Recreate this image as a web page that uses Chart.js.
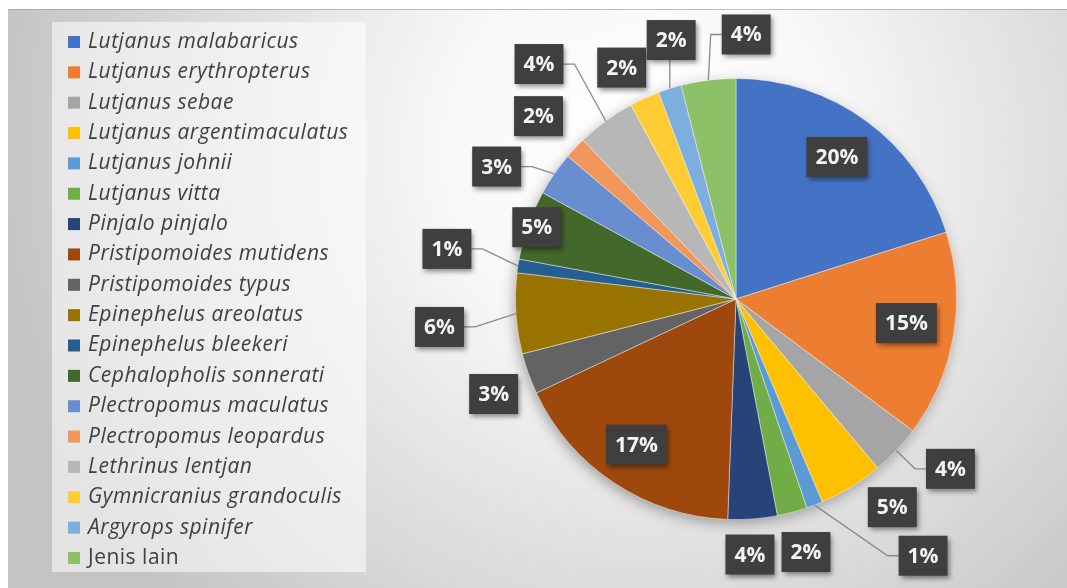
<!DOCTYPE html>
<html>
<head>
<meta charset="utf-8">
<script src="https://cdn.jsdelivr.net/npm/chart.js@4.4.1/dist/chart.umd.min.js"></script>
<style>
  html, body { margin: 0; padding: 0; background: #fff; }
  #wrap { width: 1067px; height: 588px; position: relative; }
</style>
</head>
<body>
<div id="wrap"><canvas id="pie"></canvas></div>
<script>
// --- Data (percent share per species) ---
const species = [
  'Lutjanus malabaricus', 'Lutjanus erythropterus', 'Lutjanus sebae', 'Lutjanus argentimaculatus',
  'Lutjanus johnii', 'Lutjanus vitta', 'Pinjalo pinjalo', 'Pristipomoides mutidens',
  'Pristipomoides typus', 'Epinephelus areolatus', 'Epinephelus bleekeri', 'Cephalopholis sonnerati',
  'Plectropomus maculatus', 'Plectropomus leopardus', 'Lethrinus lentjan', 'Gymnicranius grandoculis',
  'Argyrops spinifer', 'Jenis lain'
];
const shares = [20.1, 15.1, 3.7, 4.7, 1.2, 2.2, 3.6, 17.4, 3.0, 5.9, 1.0, 5.1, 3.2, 1.6, 4.3, 2.2, 1.7, 4.0];
const uprightNames = ['Jenis lain'];

// --- Styling ---
const colours = [
  '#4472C4', '#ED7D31', '#A5A5A5', '#FFC000', '#5B9BD5', '#70AD47',
  '#264478', '#9E480E', '#636363', '#997300', '#255E91', '#43682B',
  '#698ED0', '#F1975A', '#B7B7B7', '#FFCD33', '#7CAFDD', '#8CC168'
];
// label placement: angle nudge from slice middle (deg), distance as fraction of radius
const labelNudge = [-0.8, -1.5, -5, -5.4, -15.2, -0.7, 1.2, 0.9, -1.6, -1.6, 1.2, 0.2, -5.6, -0.4, -3.8, -1.8, 3.4, 9.4];
const labelDist  = [0.79, 0.78, 1.24, 1.18, 1.44, 1.19, 1.16, 0.80, 1.18, 1.35, 1.33, 0.96, 1.24, 1.22, 1.39, 1.17, 1.21, 1.20];
const hasLeader  = [0, 0, 1, 0, 1, 0, 0, 0, 0, 1, 1, 0, 1, 0, 1, 0, 1, 1];

const backdrop = {
  id: 'backdrop',
  beforeDraw(chart) {
    const ctx = chart.ctx;
    ctx.save();
    ctx.fillStyle = '#fff';
    ctx.fillRect(0, 0, chart.width, chart.height);
    const g = ctx.createRadialGradient(640, 150, 0, 640, 150, 650);
    g.addColorStop(0, '#ffffff');
    g.addColorStop(0.3, '#f8f8f8');
    g.addColorStop(1, '#c4c4c4');
    ctx.fillStyle = g;
    ctx.fillRect(8, 9, chart.width - 8, chart.height - 9);
    ctx.strokeStyle = 'rgba(150,150,150,0.6)';
    ctx.lineWidth = 1;
    ctx.beginPath(); ctx.moveTo(8, 9.5); ctx.lineTo(chart.width, 9.5); ctx.stroke();
    // legend panel
    ctx.fillStyle = 'rgba(255,255,255,0.55)';
    ctx.fillRect(52, 22, 314, 550);
    ctx.restore();
  },
  beforeDatasetsDraw(chart) {
    const arc = chart.getDatasetMeta(0).data[0];
    if (!arc) return;
    const ctx = chart.ctx;
    ctx.save();
    ctx.shadowColor = 'rgba(0,0,0,0.35)';
    ctx.shadowBlur = 14;
    ctx.shadowOffsetX = -2;
    ctx.shadowOffsetY = 4;
    ctx.fillStyle = '#bbb';
    ctx.beginPath();
    ctx.arc(arc.x, arc.y, arc.outerRadius - 1, 0, Math.PI * 2);
    ctx.fill();
    ctx.restore();
  }
};

const dataLabels = {
  id: 'dataLabels',
  afterDatasetsDraw(chart) {
    const ctx = chart.ctx;
    const meta = chart.getDatasetMeta(0);
    const total = shares.reduce((a, b) => a + b, 0);
    ctx.save();
    ctx.font = 'bold 21px "Open Sans"';
    ctx.textAlign = 'center';
    ctx.textBaseline = 'middle';
    meta.data.forEach((arc, i) => {
      const { x, y, startAngle, endAngle, outerRadius } = arc.getProps(['x', 'y', 'startAngle', 'endAngle', 'outerRadius'], true);
      const mid = (startAngle + endAngle) / 2;
      const a = mid + labelNudge[i] * Math.PI / 180;
      const lx = x + Math.cos(a) * outerRadius * labelDist[i];
      const ly = y + Math.sin(a) * outerRadius * labelDist[i];
      const text = Math.round(shares[i] / total * 100) + '%';
      const w = ctx.measureText(text).width + 18;
      const h = 40;

      if (hasLeader[i]) {
        const sx = x + Math.cos(mid) * outerRadius;
        const sy = y + Math.sin(mid) * outerRadius;
        ctx.strokeStyle = '#8a8a8a';
        ctx.lineWidth = 1.3;
        ctx.beginPath();
        ctx.moveTo(sx, sy);
        if (Math.abs(sx - lx) < w / 2) {
          ctx.lineTo(sx, ly + (sy > ly ? h / 2 : -h / 2));
        } else {
          const dir = sx > lx ? 1 : -1;
          const ex = lx + dir * w / 2;
          ctx.lineTo(ex + dir * 11, ly);
          ctx.lineTo(ex, ly);
        }
        ctx.stroke();
      }

      ctx.save();
      ctx.shadowColor = 'rgba(0,0,0,0.45)';
      ctx.shadowBlur = 5;
      ctx.shadowOffsetX = 2;
      ctx.shadowOffsetY = 3;
      ctx.fillStyle = '#3f3f3f';
      ctx.fillRect(lx - w / 2, ly - h / 2, w, h);
      ctx.restore();
      ctx.fillStyle = '#f4f4f4';
      ctx.fillText(text, lx, ly + 1);
    });
    ctx.restore();
  }
};

const sideLegend = {
  id: 'sideLegend',
  afterDraw(chart) {
    const ctx = chart.ctx;
    ctx.save();
    ctx.textBaseline = 'middle';
    ctx.letterSpacing = '0.5px';
    species.forEach((name, i) => {
      const cy = 42 + i * 30.35;
      ctx.fillStyle = chart.data.datasets[0].backgroundColor[i];
      ctx.fillRect(68, cy - 6, 12, 12);
      ctx.font = (uprightNames.includes(name) ? '' : 'italic ') + '21px "Open Sans"';
      ctx.fillStyle = '#404040';
      ctx.fillText(name, 88, cy);
    });
    ctx.restore();
  }
};

new Chart(document.getElementById('pie'), {
  type: 'pie',
  data: {
    labels: species,
    datasets: [{
      data: shares,
      backgroundColor: colours,
      borderColor: 'rgba(255,255,255,0.55)',
      borderWidth: 0.8
    }]
  },
  options: {
    responsive: true,
    maintainAspectRatio: false,
    animation: false,
    layout: { padding: { left: 515, right: 110, top: 20, bottom: 10 } },
    plugins: {
      legend: { display: false },
      tooltip: { enabled: false }
    }
  },
  plugins: [backdrop, dataLabels, sideLegend]
});
</script>
</body>
</html>
